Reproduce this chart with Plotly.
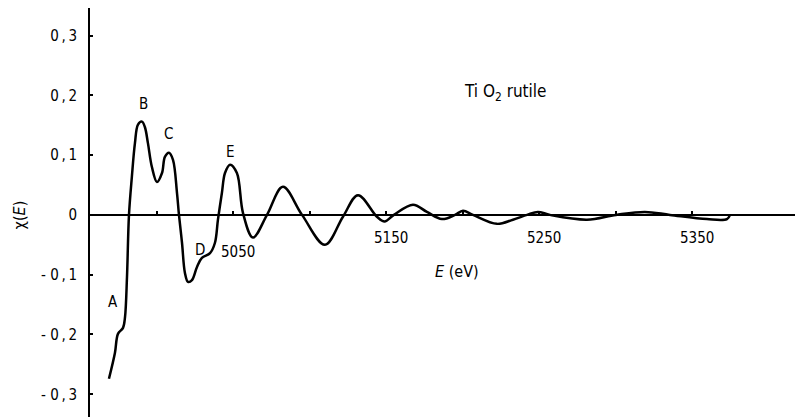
import plotly.graph_objects as go

# Photon energy (eV) and EXAFS signal chi(E)
energy = [4968.6, 4972.5, 4974.5, 4977.8, 4979.1, 4980.4, 4981.7, 4983.6, 4985.6,
          4987.6, 4990.2, 4992.1, 4994.1, 4996.7, 5000.0, 5003.3, 5005.2, 5007.9,
          5010.5, 5013.1, 5014.4, 5016.4, 5018.3, 5020.3, 5022.9, 5026.2, 5029.4,
          5034.7, 5037.9, 5039.9, 5042.5, 5044.5, 5047.8, 5052.3, 5056.3,
          5062.8, 5072.0, 5082.4, 5094.9,
          5109.9, 5121.7, 5131.5, 5143.9, 5148.9,
          5155.0, 5167.5, 5176.6, 5186.4, 5195.0, 5200.2, 5206.7, 5222.4,
          5232.9, 5242.1, 5249.2, 5257.1, 5281.3, 5300.3, 5319.2, 5335.6, 5359.8,
          5372.9, 5374.9]
chi = [-0.274, -0.231, -0.199, -0.189, -0.171, -0.104, 0.0, 0.064, 0.120,
       0.151, 0.156, 0.147, 0.120, 0.080, 0.055, 0.070, 0.097, 0.104,
       0.092, 0.037, 0.0, -0.047, -0.097, -0.112, -0.109, -0.087, -0.072,
       -0.064, -0.047, -0.008, 0.037, 0.070, 0.084, 0.070, 0.003,
       -0.038, 0.0, 0.047, 0.0,
       -0.050, -0.003, 0.033, -0.003, -0.011,
       0.0, 0.017, 0.005, -0.007, 0.0, 0.007, 0.0, -0.015,
       -0.008, 0.0, 0.005, 0.0, -0.008, 0.0, 0.005, 0.0, -0.007,
       -0.007, 0.0]

# Feature labels
feat_text = ["A", "B", "C", "D", "E"]
feat_x = [4971.0, 4991.5, 5007.8, 5028.0, 5048.0]
feat_y = [-0.146, 0.185, 0.135, -0.058, 0.105]

# Axis ticks
y_ticks = [0.3, 0.2, 0.1, 0.0, -0.1, -0.2, -0.3]
y_ticktext = ["0\u2009,\u20093", "0\u2009,\u20092", "0\u2009,\u20091", "0",
              "- 0\u2009,\u20091", "- 0\u2009,\u20092", "- 0\u2009,\u20093"]
x_ticks = [5000, 5050, 5100, 5150, 5200, 5250, 5300, 5350]
x_ticklabels = [5050, 5150, 5250, 5350]
x_ticklabel_y = [-0.062, -0.038, -0.039, -0.039]

x_range = [4956.2, 5417.4]
y_range = [-0.338, 0.346]

FONT = "DejaVu Sans Condensed, DejaVu Sans, sans-serif"

fig = go.Figure()
fig.add_trace(go.Scatter(
    x=energy, y=chi, mode="lines",
    line=dict(color="black", width=2.5, shape="spline", smoothing=1.0),
    showlegend=False, hoverinfo="skip"))

for t, x, y in zip(feat_text, feat_x, feat_y):
    fig.add_annotation(x=x, y=y, text=t, showarrow=False,
                       font=dict(family=FONT, size=15, color="black"))

for v, y in zip(x_ticklabels, x_ticklabel_y):
    fig.add_annotation(x=v, y=y, text=str(v), showarrow=False, xshift=5,
                       font=dict(family=FONT, size=15, color="black"))

fig.add_annotation(x=5196, y=-0.095, text="<i>E</i> (eV)", showarrow=False,
                   font=dict(family=FONT, size=16, color="black"))
fig.add_annotation(x=5228, y=0.205, text="Ti O<sub>2</sub> rutile", showarrow=False,
                   font=dict(family=FONT, size=17, color="black"))
fig.add_annotation(xref="paper", x=-0.10, xanchor="center", yref="y", y=0.0,
                   text="χ(<i>E</i>)", textangle=-90, showarrow=False,
                   font=dict(family=FONT, size=16, color="black"))

pos = (0 - y_range[0]) / (y_range[1] - y_range[0])
fig.update_layout(
    width=795, height=417,
    margin=dict(l=90, r=0, t=8, b=0),
    plot_bgcolor="white", paper_bgcolor="white",
    font=dict(family=FONT, size=15, color="black"),
    xaxis=dict(range=x_range, showgrid=False, zeroline=False,
               anchor="free", position=pos, showline=True, linecolor="black",
               linewidth=2, ticks="inside", ticklen=3, tickwidth=2,
               tickcolor="black", tickvals=x_ticks, showticklabels=False),
    yaxis=dict(range=y_range, showgrid=False, zeroline=False, showline=True,
               linecolor="black", linewidth=2, ticks="inside", ticklen=3,
               tickwidth=2, tickcolor="black", tickvals=y_ticks,
               ticktext=y_ticktext, ticklabelstandoff=8),
)

fig.write_html("out.html")
